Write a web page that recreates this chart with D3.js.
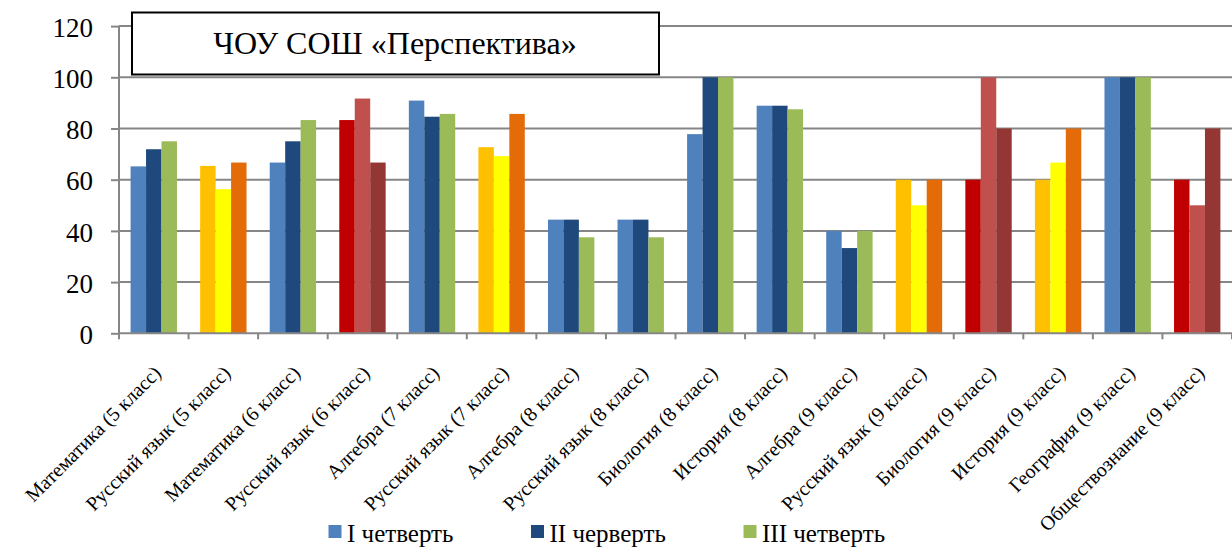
<!DOCTYPE html>
<html><head><meta charset="utf-8">
<script src="https://cdn.jsdelivr.net/npm/d3@7"></script>
</head><body style="margin:0">
<svg id="chart" width="1232" height="548"></svg>
<script>
const categories = ["Математика (5 класс)","Русский язык (5 класс)","Математика (6 класс)","Русский язык (6 класс)","Алгебра (7 класс)","Русский язык (7 класс)","Алгебра (8 класс)","Русский язык (8 класс)","Биология (8 класс)","История (8 класс)","Алгебра (9 класс)","Русский язык (9 класс)","Биология (9 класс)","История (9 класс)","География (9 класс)","Обществознание (9 класс)"];
const q1 = [65.2, 65.4, 66.7, 83.3, 90.9, 72.7, 44.4, 44.4, 77.8, 88.9, 40, 60, 60, 60, 100, 60];
const q2 = [71.9, 56.3, 75, 91.7, 84.6, 69.2, 44.4, 44.4, 100, 88.9, 33.3, 50, 100, 66.7, 100, 50];
const q3 = [75, 66.7, 83.3, 66.7, 85.7, 85.7, 37.5, 37.5, 100, 87.5, 40, 60, 80, 80, 100, 80];
const seriesNames = ["I четверть","II черверть","III четверть"];
const categoryScheme = ["blue","gold","blue","red","blue","gold","blue","blue","blue","blue","blue","gold","red","gold","blue","red"];
const yTicks = [0,20,40,60,80,100,120];
const title = "ЧОУ СОШ «Перспектива»";

const FONT = "Times New Roman";
const palettes = {
  blue: ["#4F81BD","#1F497D","#9BBB59"],
  gold: ["#FFC000","#FFFF00","#E36C09"],
  red:  ["#C00000","#C0504D","#943634"]
};
const series = [q1,q2,q3];

const svg = d3.select("#chart");
const pLeft = 119, pRight = 1232, pTop = 26.1, pBottom = 333.3;
const x = d3.scaleBand().domain(categories).range([pLeft, pRight]).paddingInner(0).paddingOuter(0);
const bw = x.bandwidth();
const unit = bw / 4.5;
const y = d3.scaleLinear().domain([0,120]).range([pBottom, pTop]);
const gridColor = "#868686";

svg.append("g").selectAll("line").data(yTicks.filter(d=>d>0)).join("line")
  .attr("x1", pLeft).attr("x2", pRight)
  .attr("y1", d=>y(d)).attr("y2", d=>y(d))
  .attr("stroke", gridColor).attr("stroke-width", 2);

const barData = [];
categories.forEach((c,i)=>{
  series.forEach((s,j)=>{
    barData.push({c, j, v: s[i], color: palettes[categoryScheme[i]][j]});
  });
});
svg.append("g").selectAll("rect").data(barData).join("rect")
  .attr("x", d => x(d.c) + unit*0.75 + d.j*unit)
  .attr("width", unit)
  .attr("y", d => y(d.v))
  .attr("height", d => y(0) - y(d.v))
  .attr("fill", d => d.color);

const yAxis = d3.axisLeft(y).tickValues(yTicks).tickSize(8).tickPadding(18).tickFormat(d3.format("d"));
const gy = svg.append("g").attr("transform", `translate(${pLeft},0)`).call(yAxis);
gy.attr("font-family", FONT).attr("font-size", 27);
gy.select(".domain").attr("stroke", gridColor).attr("stroke-width", 2).attr("d", `M0,${pTop}V${pBottom}`);
gy.selectAll(".tick line").attr("stroke", gridColor).attr("stroke-width", 2);
gy.selectAll(".tick text").attr("fill", "#000").attr("dy", "0.38em").attr("font-family", FONT);

const gx = svg.append("g").attr("transform", `translate(0,${pBottom})`);
gx.append("line").attr("x1", pLeft).attr("x2", pRight).attr("stroke", gridColor).attr("stroke-width", 2);
const bounds = categories.map(c => x(c)).concat([pRight]);
gx.selectAll("line.tk").data(bounds).join("line").attr("class","tk")
  .attr("x1", d=>d).attr("x2", d=>d).attr("y1", 0).attr("y2", 6)
  .attr("stroke", gridColor).attr("stroke-width", 2);
gx.selectAll("text").data(categories).join("text")
  .attr("transform", d => `translate(${x(d)+bw/2 + 3.5},${36}) rotate(-45)`)
  .attr("text-anchor", "end")
  .attr("dy", "0.35em")
  .attr("font-family", FONT)
  .attr("font-size", 20)
  .attr("fill", "#000")
  .text(d => d);

const tb = svg.append("g");
tb.append("rect").attr("x", 132).attr("y", 12.5).attr("width", 527).attr("height", 62)
  .attr("fill", "#fff").attr("stroke", "#000").attr("stroke-width", 2);
tb.append("text").attr("x", 395).attr("y", 53.5).attr("text-anchor", "middle")
  .attr("font-family", FONT).attr("font-size", 32).attr("fill", "#000").text(title);

const legendX = [328.5, 531, 743.5];
const lg = svg.append("g").selectAll("g").data(seriesNames).join("g")
  .attr("transform", (d,i) => `translate(${legendX[i]},0)`);
lg.append("rect").attr("x", 0).attr("y", 525).attr("width", 13).attr("height", 13)
  .attr("fill", (d,i) => palettes.blue[i]);
lg.append("text").attr("x", 18.5).attr("y", 542.3)
  .attr("font-family", FONT).attr("font-size", 25).attr("fill", "#000").text(d => d);
</script>
</body></html>
